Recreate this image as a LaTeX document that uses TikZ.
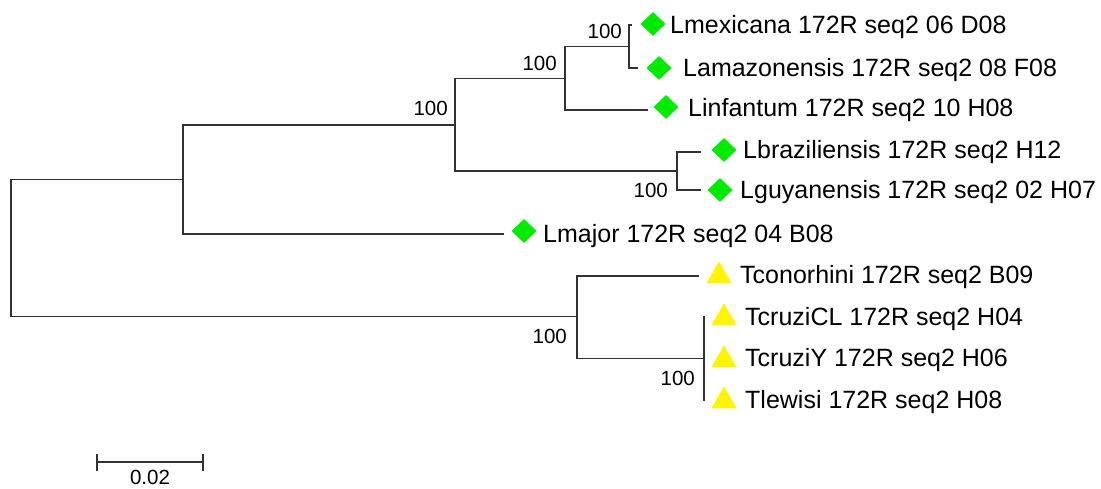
\documentclass[tikz,border=0pt]{standalone}
\usepackage{fontspec}
\setmainfont{Liberation Sans}
\usetikzlibrary{shapes.geometric}
\definecolor{leish}{RGB}{0,235,0}
\definecolor{tryp}{RGB}{255,245,0}
\definecolor{branchcol}{RGB}{50,50,50}
\tikzset{
  branch/.style={draw=branchcol, line width=1.7pt, line cap=rect},
  taxon/.style={anchor=base west, inner sep=0pt, font=\fontsize{25}{28}\selectfont},
  boot/.style={anchor=east, inner sep=0pt, font=\fontsize{20.5}{24}\selectfont},
  diam/.style={diamond, fill=leish, draw=none, inner sep=0pt, minimum width=25pt, minimum height=24pt},
  tri/.style={regular polygon, regular polygon sides=3, fill=tryp, draw=none, inner sep=0pt, minimum size=29pt},
}
\begin{document}
\begin{tikzpicture}[x=1pt, y=-1pt]
\useasboundingbox (0,0) rectangle (1101,488);

% internal nodes of the tree
\coordinate (r)  at (11,248.5);
\coordinate (n1) at (183,179.5);
\coordinate (n2) at (455,125);
\coordinate (n3) at (565,78.5);
\coordinate (n4) at (629,46.5);
\coordinate (n5) at (677,171);
\coordinate (n6) at (577,316.5);
\coordinate (n7) at (704,358.5);

% branch tips
\coordinate (tmex) at (631,25);
\coordinate (tama) at (637,68);
\coordinate (tinf) at (647,110);
\coordinate (tbra) at (700,152);
\coordinate (tguy) at (700,190);
\coordinate (tmaj) at (503,234);
\coordinate (tcon) at (698,276);
\coordinate (tccl) at (704,317);
\coordinate (tcy)  at (704,358.5);
\coordinate (tlew) at (704,400);

% branches
\draw[branch] (r) |- (n1);
\draw[branch] (r) |- (n6);
\draw[branch] (n1) |- (n2);
\draw[branch] (n1) |- (tmaj);
\draw[branch] (n2) |- (n3);
\draw[branch] (n2) |- (n5);
\draw[branch] (n3) |- (n4);
\draw[branch] (n3) |- (tinf);
\draw[branch] (n4) |- (tmex);
\draw[branch] (n4) |- (tama);
\draw[branch] (n5) |- (tbra);
\draw[branch] (n5) |- (tguy);
\draw[branch] (n6) |- (tcon);
\draw[branch] (n6) |- (n7);
\draw[branch] (n7) -- (tccl);
\draw[branch] (n7) -- (tlew);

% bootstrap values
\node[boot] (b4) at (622,31) {100};
\node[boot] (b3) at (557,63) {100};
\node[boot] (b2) at (448,108) {100};
\node[boot] (b5) at (668,190) {100};
\node[boot] (b6) at (567,336) {100};
\node[boot] (b7) at (695,378) {100};

% markers
\node[diam] (mmex) at (653,24) {};
\node[diam] (mama) at (659,68) {};
\node[diam] (minf) at (666,107) {};
\node[diam] (mbra) at (724,150) {};
\node[diam] (mguy) at (720,190) {};
\node[diam] (mmaj) at (524,231) {};
\node[tri] (mcon) at (719,276) {};
\node[tri] (mccl) at (724,318) {};
\node[tri] (mcy)  at (724,360) {};
\node[tri] (mlew) at (724,401) {};

% taxon labels
\node[taxon] (lmex) at (670,33)  {Lmexicana 172R seq2 06 D08};
\node[taxon] (lama) at (683,76)  {Lamazonensis 172R seq2 08 F08};
\node[taxon] (linf) at (688,116) {Linfantum 172R seq2 10 H08};
\node[taxon] (lbra) at (743,158) {Lbraziliensis 172R seq2 H12};
\node[taxon] (lguy) at (740,198) {Lguyanensis 172R seq2 02 H07};
\node[taxon] (lmaj) at (543,242) {Lmajor 172R seq2 04 B08};
\node[taxon] (lcon) at (740,283) {Tconorhini 172R seq2 B09};
\node[taxon] (lccl) at (745,325) {TcruziCL 172R seq2 H04};
\node[taxon] (lcy)  at (745,366) {TcruziY 172R seq2 H06};
\node[taxon] (llew) at (745,408) {Tlewisi 172R seq2 H08};

% scale bar
\coordinate (sa) at (97,462);
\coordinate (sb) at (203,462);
\draw[branch, line cap=butt] (sa) -- (sb);
\draw[branch, line cap=butt] ([yshift=-9pt]sa) -- ([yshift=8pt]sa);
\draw[branch, line cap=butt] ([yshift=-9pt]sb) -- ([yshift=8pt]sb);
\node[inner sep=0pt, font=\fontsize{20.5}{24}\selectfont] (scl) at (150,477) {0.02};
\end{tikzpicture}
\end{document}
